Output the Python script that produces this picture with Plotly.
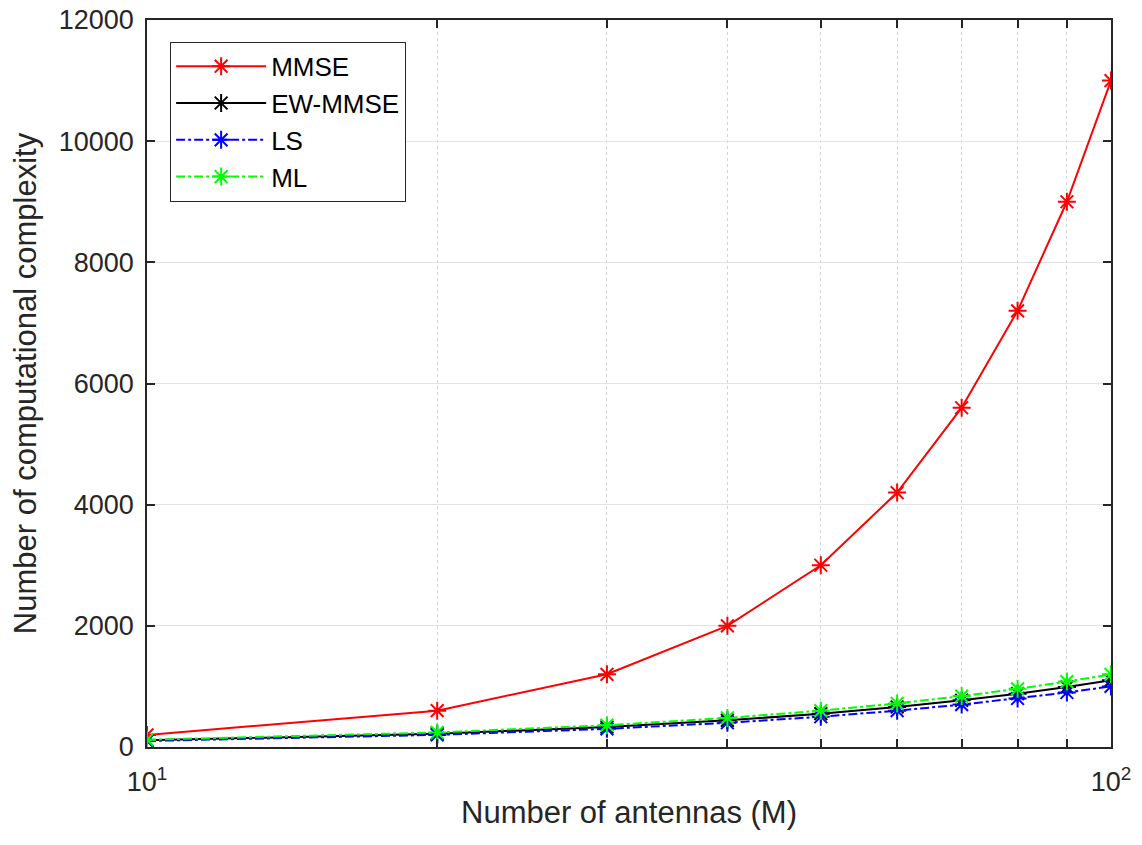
import plotly.graph_objects as go

antennas = [10, 20, 30, 40, 50, 60, 70, 80, 90, 100]
mmse = [200, 600, 1200, 2000, 3000, 4200, 5600, 7200, 9000, 11000]
ew_mmse = [110, 220, 330, 440, 550, 660, 770, 880, 990, 1100]
ls = [100, 200, 300, 400, 500, 600, 700, 800, 900, 1000]
ml = [120, 240, 360, 480, 600, 720, 840, 960, 1080, 1200]

x_tickvals = [10, 20, 30, 40, 50, 60, 70, 80, 90, 100]
x_ticktext = ["10<sup>1</sup>", "", "", "", "", "", "", "", "", "10<sup>2</sup>"]
y_tickvals = [0, 2000, 4000, 6000, 8000, 10000, 12000]

series = [
    ("MMSE", mmse, "#ff0000", "solid"),
    ("EW-MMSE", ew_mmse, "#000000", "solid"),
    ("LS", ls, "#0000ff", "dashdot"),
    ("ML", ml, "#00ff00", "dashdot"),
]

fig = go.Figure()
for name, vals, color, dash in series:
    fig.add_trace(go.Scatter(
        x=antennas, y=vals, name=name, mode="lines+markers",
        line=dict(color=color, width=2, dash=dash),
        marker=dict(symbol="asterisk-open", size=15, color=color,
                    line=dict(color=color, width=2)),
    ))

FONT = "Liberation Sans, Arial, sans-serif"
axis_common = dict(
    showline=True, linecolor="#262626", linewidth=1.5, mirror="ticks",
    ticks="inside", ticklen=8, tickwidth=1.5, tickcolor="#262626",
    tickfont=dict(family=FONT, size=27, color="#262626"),
    ticklabeloverflow="allow", automargin=False,
    zeroline=False,
)

fig.update_layout(
    width=1126, height=829,
    paper_bgcolor="white", plot_bgcolor="white",
    margin=dict(l=139, r=23, t=12, b=90),
    font=dict(family=FONT, color="#262626"),
    showlegend=True,
    legend=dict(
        x=0.024, y=0.97, xanchor="left", yanchor="top",
        bgcolor="white", bordercolor="#262626", borderwidth=1,
        font=dict(family=FONT, size=26, color="#000000"),
        tracegroupgap=0, itemwidth=90,
    ),
    xaxis=dict(
        type="log", range=[1, 2],
        tickvals=x_tickvals, ticktext=x_ticktext,
        ticklabelstandoff=10,
        showgrid=True, gridcolor="#d4d4d4", griddash="dot", gridwidth=1,
        title=dict(text="Number of antennas (M)", font=dict(family=FONT, size=31, color="#262626"), standoff=5),
        **axis_common,
    ),
    yaxis=dict(
        range=[0, 12000], tickvals=y_tickvals, tickformat="d",
        ticklabelstandoff=6,
        showgrid=True, gridcolor="#e3e3e3", gridwidth=1,
        title=dict(text="Number of computational complexity", font=dict(family=FONT, size=31, color="#262626"), standoff=17),
        **axis_common,
    ),
)

fig.write_html("out.html")
